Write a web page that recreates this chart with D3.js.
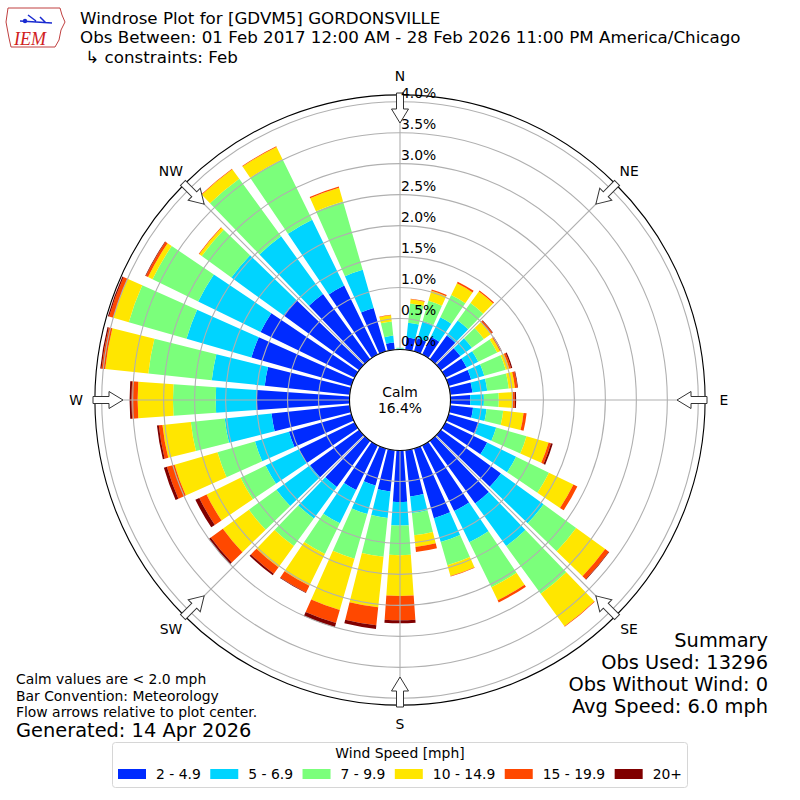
<!DOCTYPE html>
<html>
<head>
<meta charset="utf-8">
<script src="https://cdn.jsdelivr.net/npm/d3@7"></script>
<style>
body { margin: 0; background: #fff; }
svg { font-family: "DejaVu Sans", sans-serif; }
</style>
</head>
<body>
<div id="chart"></div>
<script>
'use strict';

// wind direction bins (degrees, 10 deg wide) and speed classes
var directions = d3.range(0, 360, 10);
var speedBins = ['2 - 4.9', '5 - 6.9', '7 - 9.9', '10 - 14.9', '15 - 19.9', '20+'];
var speedColors = ['#002bff', '#00d4ff', '#7bff7b', '#ffe600', '#ff4800', '#800000'];
var compassLabels = ['N', 'NE', 'E', 'SE', 'S', 'SW', 'W', 'NW'];
var ringTicks = [0, 0.5, 1.0, 1.5, 2.0, 2.5, 3.0, 3.5, 4.0];
var calmPct = 16.4;
var rMax = 4.11;

// percent of observations per direction, one array per speed class
var pct2to5 = [0.01, 0.20, 0.22, 0.32, 0.47, 0.39, 0.38, 0.38, 0.36, 0.32, 0.37, 0.51,
    0.75, 1.20, 1.25, 1.18, 1.17, 0.75, 0.83, 0.67, 0.62, 0.80, 0.92, 0.98,
    1.00, 1.05, 1.27, 1.50, 1.38, 1.68, 1.69, 1.51, 1.30, 1.24, 0.73, 0.12];
var pct5to7 = [0.01, 0.24, 0.29, 0.35, 0.30, 0.23, 0.21, 0.22, 0.24, 0.22, 0.22, 0.29,
    0.52, 0.85, 0.85, 0.56, 0.40, 0.27, 0.38, 0.43, 0.48, 0.60, 0.63, 0.67,
    0.60, 0.57, 0.76, 0.66, 0.86, 1.09, 1.12, 1.04, 1.15, 1.18, 0.64, 0.11];
var pct7to10 = [0.01, 0.31, 0.34, 0.40, 0.35, 0.24, 0.34, 0.36, 0.35, 0.24, 0.27, 0.51,
    0.59, 0.65, 0.95, 0.81, 0.39, 0.36, 0.48, 0.63, 0.75, 0.55, 0.55, 0.55,
    0.45, 0.63, 0.55, 0.69, 1.03, 0.97, 0.82, 0.59, 1.15, 1.09, 1.15, 0.23];
var pct10to15 = [0.00, 0.07, 0.17, 0.21, 0.23, 0.14, 0.05, 0.06, 0.10, 0.23, 0.33, 0.37,
    0.44, 0.58, 0.65, 0.23, 0.18, 0.19, 0.66, 0.82, 0.86, 0.57, 0.42, 0.52,
    0.61, 0.72, 0.46, 0.57, 0.70, 0.26, 0.08, 0.05, 0.19, 0.22, 0.23, 0.10];
var pct15to20 = [0.00, 0.01, 0.02, 0.03, 0.02, 0.03, 0.02, 0.03, 0.04, 0.03, 0.05, 0.04,
    0.07, 0.07, 0.01, 0.04, 0.01, 0.08, 0.39, 0.29, 0.22, 0.12, 0.13, 0.24,
    0.13, 0.13, 0.06, 0.10, 0.06, 0.07, 0.04, 0.01, 0.01, 0.01, 0.02, 0.01];
var pct20plus = [0.00, 0.00, 0.00, 0.00, 0.00, 0.01, 0.01, 0.02, 0.01, 0.02, 0.00, 0.03,
    0.00, 0.01, 0.00, 0.00, 0.00, 0.00, 0.05, 0.06, 0.07, 0.01, 0.03, 0.04,
    0.07, 0.05, 0.03, 0.03, 0.02, 0.02, 0.01, 0.00, 0.00, 0.00, 0.00, 0.00];

var seriesValues = [pct2to5, pct5to7, pct7to10, pct10to15, pct15to20, pct20plus];

var titleLines = [
    'Windrose Plot for [GDVM5] GORDONSVILLE',
    'Obs Between: 01 Feb 2017 12:00 AM - 28 Feb 2026 11:00 PM America/Chicago',
    ' \u21b3 constraints: Feb'
];
var noteLines = ['Calm values are < 2.0 mph', 'Bar Convention: Meteorology',
    'Flow arrows relative to plot center.'];
var summaryLines = ['Summary', 'Obs Used: 13296', 'Obs Without Wind: 0', 'Avg Speed: 6.0 mph'];

var width = 800, height = 800,
    cx = 400, cy = 400;

var svg = d3.select('#chart').append('svg')
    .attr('width', width)
    .attr('height', height);

// build a table for d3.stack
var table = directions.map(function(d, i) {
    var row = {dir: d};
    speedBins.forEach(function(k, j) { row[k] = seriesValues[j][i]; });
    return row;
});
var stacked = d3.stack().keys(speedBins)(table);

var r = d3.scaleLinear().domain([0, 4]).range([50.5, 298.3]);
var rad = function(deg) { return deg * Math.PI / 180; };

var plot = svg.append('g')
    .attr('transform', 'translate(' + cx + ',' + cy + ')');

// bars, 80% of the 10 degree bin
var arc = d3.arc()
    .innerRadius(function(d) { return r(d[0]); })
    .outerRadius(function(d) { return r(d[1]); })
    .startAngle(function(d) { return rad(d.data.dir - 4); })
    .endAngle(function(d) { return rad(d.data.dir + 4); });

plot.selectAll('g.layer')
    .data(stacked)
    .enter().append('g')
    .attr('class', 'layer')
    .attr('fill', function(d, i) { return speedColors[i]; })
    .selectAll('path')
    .data(function(d) { return d.filter(function(s) { return s[1] > s[0]; }); })
    .enter().append('path')
    .attr('d', arc);

// grid rings
plot.selectAll('circle.ring')
    .data(ringTicks)
    .enter().append('circle')
    .attr('class', 'ring')
    .attr('r', function(d) { return r(d); })
    .attr('fill', 'none')
    .attr('stroke', '#b0b0b0')
    .attr('stroke-width', 1.1);

// radial grid lines
plot.selectAll('line.spoke')
    .data(d3.range(0, 360, 45))
    .enter().append('line')
    .attr('class', 'spoke')
    .attr('x1', function(d) { return r(0) * Math.sin(rad(d)); })
    .attr('y1', function(d) { return -r(0) * Math.cos(rad(d)); })
    .attr('x2', function(d) { return r(rMax) * Math.sin(rad(d)); })
    .attr('y2', function(d) { return -r(rMax) * Math.cos(rad(d)); })
    .attr('stroke', '#b0b0b0')
    .attr('stroke-width', 1.1);

// outer frame
plot.append('circle')
    .attr('r', r(rMax))
    .attr('fill', 'none')
    .attr('stroke', '#000')
    .attr('stroke-width', 1.1);

// calm circle
plot.append('circle')
    .attr('r', r(0))
    .attr('fill', '#fff')
    .attr('stroke', '#000')
    .attr('stroke-width', 1.1);

plot.append('text')
    .attr('x', 0).attr('y', -3)
    .attr('text-anchor', 'middle')
    .style('font-size', '13.9px')
    .text('Calm');
plot.append('text')
    .attr('x', 0).attr('y', 13)
    .attr('text-anchor', 'middle')
    .style('font-size', '13.9px')
    .text(calmPct.toFixed(1) + '%');

// flow arrows pointing to the center
var arrowShape = [[307, -3.5], [291, -3.5], [291, -8.5], [277, 0], [291, 8.5], [291, 3.5], [307, 3.5]];
plot.selectAll('path.arrow')
    .data(d3.range(0, 360, 45))
    .enter().append('path')
    .attr('class', 'arrow')
    .attr('d', d3.line()(arrowShape) + 'Z')
    .attr('transform', function(d) { return 'rotate(' + (d - 90) + ')'; })
    .attr('fill', '#fff')
    .attr('stroke', '#333')
    .attr('stroke-width', 1);

// compass labels
plot.selectAll('text.compass')
    .data(compassLabels)
    .enter().append('text')
    .attr('class', 'compass')
    .attr('x', function(d, i) { return 324 * Math.sin(rad(i * 45)); })
    .attr('y', function(d, i) { return -324 * Math.cos(rad(i * 45)) + 5; })
    .attr('text-anchor', 'middle')
    .style('font-size', '13.9px')
    .text(function(d) { return d; });

// ring labels
plot.selectAll('text.rlabel')
    .data(ringTicks)
    .enter().append('text')
    .attr('class', 'rlabel')
    .attr('x', 1)
    .attr('y', function(d) { return -r(d) - 3.5; })
    .style('font-size', '13.9px')
    .text(function(d) { return d.toFixed(1) + '%'; });

// titles
var titleY = [23.8, 43.4, 63];
svg.selectAll('text.title')
    .data(titleLines)
    .enter().append('text')
    .attr('class', 'title')
    .attr('x', 80)
    .attr('y', function(d, i) { return titleY[i]; })
    .style('font-size', '16.7px')
    .style('white-space', 'pre')
    .attr('xml:space', 'preserve')
    .text(function(d) { return d; });

// IEM logo (simplified)
var logo = svg.append('g');
logo.append('path')
    .attr('d', 'M8,8 L60,8 L62,15 L65,22 L61,30 L59,40 L55,47 L11,47 L9,38 L6,22 Z')
    .attr('fill', '#fff')
    .attr('stroke', '#c04040')
    .attr('stroke-width', 1);
logo.append('path')
    .attr('d', 'M20,21 L52,23 M28,15 L36,21 M40,17 L46,23')
    .attr('stroke', '#1a2bd0')
    .attr('stroke-width', 1.5)
    .attr('fill', 'none');
logo.append('circle').attr('cx', 25).attr('cy', 21).attr('r', 2.2).attr('fill', '#1a2bd0');
logo.append('text')
    .attr('x', 14).attr('y', 45)
    .style('font-family', '"Liberation Serif", serif')
    .style('font-style', 'italic')
    .style('font-size', '18px')
    .attr('fill', '#d02020')
    .text('IEM');

// notes bottom left
svg.selectAll('text.note')
    .data(noteLines)
    .enter().append('text')
    .attr('class', 'note')
    .attr('x', 16)
    .attr('y', function(d, i) { return 684 + i * 16.7; })
    .style('font-size', '13.9px')
    .text(function(d) { return d; });

svg.append('text')
    .attr('x', 16).attr('y', 737)
    .style('font-size', '19.4px')
    .text('Generated: 14 Apr 2026');

// summary bottom right
svg.selectAll('text.summary')
    .data(summaryLines)
    .enter().append('text')
    .attr('class', 'summary')
    .attr('x', 768)
    .attr('y', function(d, i) { return 647 + i * 22; })
    .attr('text-anchor', 'end')
    .style('font-size', '19.4px')
    .text(function(d) { return d; });

// legend
var legend = svg.append('g');
legend.append('rect')
    .attr('x', 112.5).attr('y', 742.5)
    .attr('width', 575).attr('height', 45)
    .attr('rx', 3)
    .attr('fill', '#fff')
    .attr('stroke', '#d6d6d6');
legend.append('text')
    .attr('x', 400).attr('y', 758)
    .attr('text-anchor', 'middle')
    .style('font-size', '13.9px')
    .text('Wind Speed [mph]');

var entry = legend.selectAll('g.entry')
    .data(speedBins)
    .enter().append('g')
    .attr('class', 'entry');
entry.append('rect')
    .attr('width', 28).attr('height', 10)
    .attr('fill', function(d, i) { return speedColors[i]; });
var entryText = entry.append('text')
    .attr('x', 38).attr('y', 10)
    .style('font-size', '13.9px')
    .text(function(d) { return d; });

// lay the entries out in one row between the box paddings
var textW = [];
entryText.each(function() { textW.push(this.getComputedTextLength()); });
var left = 118, right = 682, handle = 38;
var gap = (right - left - d3.sum(textW) - handle * speedBins.length) / (speedBins.length - 1);
var xPos = left;
entry.each(function(d, i) {
    d3.select(this).attr('transform', 'translate(' + xPos + ',769)');
    xPos += handle + textW[i] + gap;
});
</script>
</body>
</html>
